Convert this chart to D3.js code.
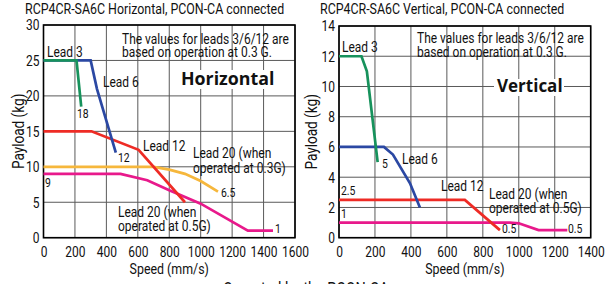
<!DOCTYPE html>
<html>
<head>
<meta charset="utf-8">
<script src="https://cdn.jsdelivr.net/npm/d3@7"></script>
<style>
  body { margin: 0; background: #fff; }
  svg text { font-family: Roboto, "DejaVu Sans Condensed", sans-serif; fill: #111; }
</style>
</head>
<body>
<div id="res"></div>
<script>
/* data: [speed mm/s, payload kg] */
var hLead3 = [[0, 25], [210, 25], [240, 18.5]];
var hLead6 = [[0, 25], [300, 25], [340, 21], [460, 12]];
var hLead12 = [[0, 15], [305, 15], [605, 12.4], [900, 5]];
var hLead20a = [[0, 10], [700, 10], [800, 9.6], [900, 9], [1000, 8], [1110, 6.5]];
var hLead20b = [[0, 9], [490, 9], [660, 8.1], [800, 6.7], [1000, 4.8], [1300, 1], [1460, 1]];

var vLead3 = [[0, 12], [125, 12], [155, 11], [215, 5]];
var vLead6 = [[0, 6], [250, 6], [300, 5.5], [395, 3.6], [450, 2]];
var vLead12 = [[0, 2.5], [700, 2.5], [895, 0.5]];
var vLead20 = [[0, 1], [950, 1], [1000, 0.95], [1110, 0.5], [1270, 0.5]];

var hSpeedTicks = [0, 200, 400, 600, 800, 1000, 1200, 1400, 1600];
var hPayloadTicks = [0, 5, 10, 15, 20, 25, 30];
var vSpeedTicks = [0, 200, 400, 600, 800, 1000, 1200, 1400];
var vPayloadTicks = [0, 2, 4, 6, 8, 10, 12, 14];

var colors = { lead3: '#17925c', lead6: '#2b48a3', lead12: '#ee2b25', lead20a: '#f6b73c', lead20b: '#e8198b' };

var width = 613, height = 284;
var sx = 0.8; // squeeze Roboto so it looks like the condensed face of the original

var svg = d3.select('#res').append('svg')
	.attr('width', width)
	.attr('height', height);

/* condensed text helper */
function ctext(parent, x, y, str, size, anchor) {
	return parent.append('text')
		.attr('transform', 'translate(' + x + ',' + y + ') scale(' + sx + ',1)')
		.attr('text-anchor', anchor || 'start')
		.style('font-size', size + 'px')
		.text(str);
}

function drawChart(opt) {
	var x = d3.scaleLinear().domain(opt.xDomain).range([opt.left, opt.right]);
	var y = d3.scaleLinear().domain(opt.yDomain).range([opt.bottom, opt.top]);
	var g = svg.append('g');

	/* grid */
	g.selectAll('.vg').data(opt.xTicks).enter().append('line')
		.attr('x1', d => x(d)).attr('x2', d => x(d))
		.attr('y1', opt.top).attr('y2', opt.bottom)
		.style('stroke', '#5a5a5a').style('stroke-width', 1);
	g.selectAll('.hg').data(opt.yTicks).enter().append('line')
		.attr('y1', d => y(d)).attr('y2', d => y(d))
		.attr('x1', opt.left).attr('x2', opt.right)
		.style('stroke', '#5a5a5a').style('stroke-width', 1);

	/* axes: tick labels only, the frame is drawn below */
	var xa = g.append('g')
		.attr('transform', 'translate(0,' + opt.bottom + ')')
		.call(d3.axisBottom(x).tickValues(opt.xTicks).tickFormat(d3.format('d')).tickSize(0).tickPadding(9));
	var ya = g.append('g')
		.attr('transform', 'translate(' + opt.left + ',0)')
		.call(d3.axisLeft(y).tickValues(opt.yTicks).tickFormat(d3.format('d')).tickSize(0).tickPadding(4));
	[xa, ya].forEach(function(a) {
		a.select('.domain').remove();
		a.selectAll('text')
			.style('font-size', '15px').style('font-family', null).attr('fill', null)
			.attr('transform', 'scale(' + sx + ',1)');
	});
	ya.selectAll('text').attr('x', -4 / sx);

	/* white boxes behind the big labels */
	opt.boxes.forEach(function(b) {
		g.append('rect').attr('x', b[0]).attr('y', b[1]).attr('width', b[2]).attr('height', b[3]).attr('fill', '#fff');
	});

	/* frame */
	g.append('rect')
		.attr('x', opt.left).attr('y', opt.top)
		.attr('width', opt.right - opt.left).attr('height', opt.bottom - opt.top)
		.attr('fill', 'none').style('stroke', '#000').style('stroke-width', 1.6);

	var line = d3.line().x(d => x(d[0])).y(d => y(d[1]));
	opt.series.forEach(function(s) {
		g.append('path').datum(s.data)
			.attr('d', line)
			.attr('fill', 'none')
			.style('stroke', s.color)
			.style('stroke-width', 2.7);
	});

	opt.labels.forEach(function(l) {
		ctext(g, l[0], l[1], l[2], l[3] || 15);
	});

	g.append('text')
		.attr('x', opt.bigLabel[0]).attr('y', opt.bigLabel[1])
		.style('font-size', opt.bigLabel[3] + 'px')
		.style('font-weight', 'bold')
		.style('font-family', '"Open Sans", Lato, sans-serif')
		.text(opt.bigLabel[2]);

	ctext(g, opt.titleX, 14, opt.title, 15.5);
	ctext(g, (opt.left + opt.right) / 2, 274, 'Speed (mm/s)', 15.5, 'middle');
	g.append('text')
		.attr('text-anchor', 'middle')
		.attr('transform', 'translate(' + opt.yLabelX + ',' + ((opt.top + opt.bottom) / 2) + ') rotate(-90) scale(' + sx + ',1)')
		.style('font-size', '17px')
		.text('Payload (kg)');
}

drawChart({
	title: 'RCP4CR-SA6C Horizontal, PCON-CA connected', titleX: 25,
	left: 43.5, right: 295, top: 25, bottom: 237.7,
	xDomain: [0, 1600], yDomain: [0, 30],
	xTicks: hSpeedTicks, yTicks: hPayloadTicks, yLabelX: 24,
	boxes: [[179, 70, 97, 19]],
	bigLabel: [181, 85, 'Horizontal', 17.8],
	series: [
		{ data: hLead20a, color: colors.lead20a },
		{ data: hLead20b, color: colors.lead20b },
		{ data: hLead12, color: colors.lead12 },
		{ data: hLead6, color: colors.lead6 },
		{ data: hLead3, color: colors.lead3 }
	],
	labels: [
		[122, 44, 'The values for leads 3/6/12 are'],
		[122, 57, 'based on operation at 0.3 G.'],
		[47, 57, 'Lead 3'],
		[103, 87, 'Lead 6'],
		[77, 118, '18', 13],
		[118, 162, '12', 13],
		[143, 151, 'Lead 12'],
		[193, 158, 'Lead 20 (when'],
		[193, 173, 'operated at 0.3G)'],
		[221, 197, '6.5', 13],
		[45, 187, '9', 13],
		[118, 217, 'Lead 20 (when'],
		[118, 231, 'operated at 0.5G)'],
		[275, 233, '1', 13]
	]
});

drawChart({
	title: 'RCP4CR-SA6C Vertical, PCON-CA connected', titleX: 320,
	left: 339, right: 590.7, top: 26, bottom: 237.7,
	xDomain: [0, 1400], yDomain: [0, 14],
	xTicks: vSpeedTicks, yTicks: vPayloadTicks, yLabelX: 317,
	boxes: [[494, 79, 70, 17]],
	bigLabel: [497, 92, 'Vertical', 17],
	series: [
		{ data: vLead20, color: colors.lead20b },
		{ data: vLead12, color: colors.lead12 },
		{ data: vLead6, color: colors.lead6 },
		{ data: vLead3, color: colors.lead3 }
	],
	labels: [
		[417, 43, 'The values for leads 3/6/12 are'],
		[417, 57, 'based on operation at 0.3 G.'],
		[342, 52, 'Lead 3'],
		[382, 168, '5', 13],
		[402, 164, 'Lead 6'],
		[341, 195, '2.5', 13],
		[441, 191, 'Lead 12'],
		[341, 218, '1', 13],
		[489, 199, 'Lead 20 (when'],
		[489, 213, 'operated at 0.5G)'],
		[502, 233, '0.5', 13],
		[568, 233, '0.5', 13]
	]
});

/* caption below the charts, cut by the bottom edge as in the original */
ctext(svg, 223, 295, 'Operated by the PCON-CA', 18);
</script>
</body>
</html>
